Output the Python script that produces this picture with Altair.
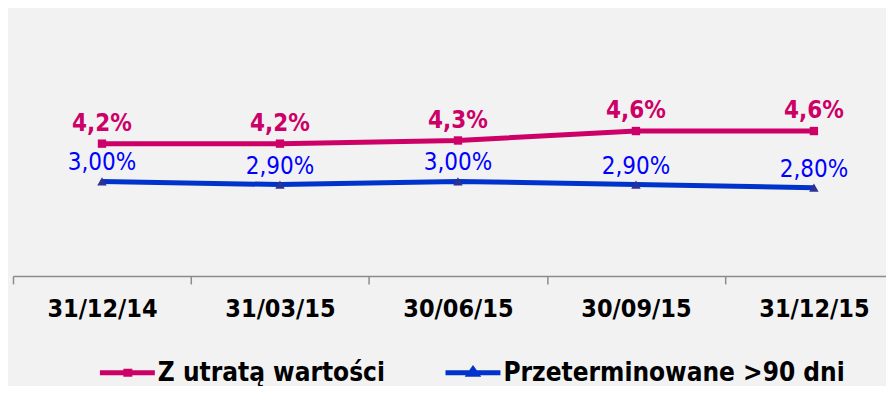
import altair as alt
import pandas as pd

dates = ["31/12/14", "31/03/15", "30/06/15", "30/09/15", "31/12/15"]
impaired = [4.2, 4.2, 4.3, 4.6, 4.6]
impaired_labels = ["4,2%", "4,2%", "4,3%", "4,6%", "4,6%"]
overdue = [3.0, 2.9, 3.0, 2.9, 2.8]
overdue_labels = ["3,00%", "2,90%", "3,00%", "2,90%", "2,80%"]
series_names = ["Z utratą wartości", "Przeterminowane >90 dni"]

FONT = "DejaVu Sans Condensed, DejaVu Sans"
PINK = "#cc0066"
BLUE_LINE = "#0033cc"
BLUE_TEXT = "#0000ff"
NAVY = "#2e3192"


def make_df(vals, labels, name):
    return pd.DataFrame({"i": list(range(len(dates))), "date": dates,
                         "v": vals, "lab": labels, "series": name})


df_a = make_df(impaired, impaired_labels, series_names[0])
df_b = make_df(overdue, overdue_labels, series_names[1])

label_expr = "[" + ",".join(f"'{d}'" for d in dates) + "][datum.value]"

x = alt.X("i:Q",
          scale=alt.Scale(domain=[-0.5, 4.405], nice=False, zero=False),
          axis=alt.Axis(values=list(range(len(dates))), labelExpr=label_expr,
                        tickOffset=-89, labelOffset=89, title=None, grid=False,
                        domainColor="#8c8c8c", tickColor="#8c8c8c", tickSize=8,
                        domainWidth=1.5, tickWidth=1.5,
                        labelFont=FONT, labelFontSize=25, labelFontWeight="bold",
                        labelColor="black", labelPadding=13))
y = alt.Y("v:Q", scale=alt.Scale(domain=[0, 8.5], nice=False), axis=None)

path_sq = "M-1,0H4.5M1.6,-0.15H2V0.15H1.6Z"
path_tri = "M-1,0H4.5M1.75,-0.35L2.1,0.15L1.4,0.15Z"


def legend(path, lx):
    return alt.Legend(title=None, orient="none", legendX=lx, legendY=352,
                      symbolType=path, symbolSize=400, symbolStrokeWidth=5,
                      labelFont=FONT, labelFontSize=26, labelFontWeight="bold",
                      labelColor="black", labelOffset=35, labelLimit=600, padding=0)


def series_layers(df, col_line, col_marker, col_text, shape, msize, bold, dy, name, path, lx):
    base = alt.Chart(df)
    line = base.mark_line(strokeWidth=5).encode(
        x=x, y=y,
        color=alt.Color("series:N",
                        scale=alt.Scale(domain=[name], range=[col_line]),
                        legend=legend(path, lx)))
    pts = base.mark_point(shape=shape, filled=True, size=msize, opacity=1).encode(
        x=x, y=y, color=alt.value(col_marker))
    txt = base.mark_text(font=FONT, fontSize=24, fontWeight="bold" if bold else "normal",
                         baseline="bottom", dy=dy).encode(
        x=x, y=y, text="lab:N", color=alt.value(col_text))
    return [line, pts, txt]


layers = (series_layers(df_a, PINK, PINK, PINK, "square", 70, True, -8,
                        series_names[0], path_sq, 84)
          + series_layers(df_b, BLUE_LINE, NAVY, BLUE_TEXT, "triangle-up", 90, False, -6,
                          series_names[1], path_tri, 430))

chart = alt.layer(*layers).resolve_scale(color="independent").properties(
    width=874, height=268,
    background="#f2f2f2",
    padding={"left": 4, "top": 0, "right": 0, "bottom": 0},
).configure_view(stroke=None)

chart.save("out.html", embed_options={"renderer": "svg", "actions": False})
